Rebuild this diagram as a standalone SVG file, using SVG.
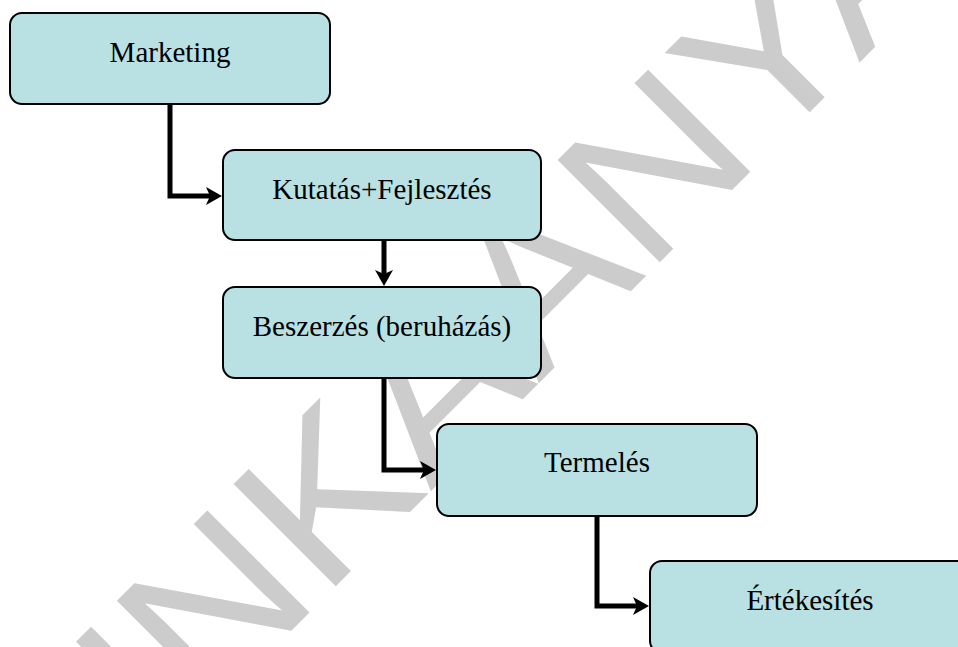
<svg xmlns="http://www.w3.org/2000/svg" width="958" height="647" viewBox="0 0 958 647">
<style>
.wm{font-family:"Liberation Sans",Arial,sans-serif;fill:#cccccc}
.box rect{fill:#b9e0e3;stroke:#000;stroke-width:2}
.box text{font-family:"Liberation Serif","Times New Roman",serif;font-size:29px;fill:#000;text-anchor:middle}
.conn path{fill:none;stroke:#000;stroke-width:5;stroke-linejoin:miter;marker-end:url(#arr)}
</style>
<defs>
<marker id="arr" markerUnits="userSpaceOnUse" viewBox="0 -10 20 20" markerWidth="20" markerHeight="20" refX="4" refY="0" orient="auto" overflow="visible">
<path d="M0,-9 L16,0 L0,9 L4,0 Z" fill="#000"/>
</marker>
</defs>
<rect width="958" height="647" fill="#fff"/>
<text class="wm" font-size="210" transform="translate(-46,968) rotate(-45) scale(1.09,1)">MUNKAANYAG</text>
<g id="connectors" class="conn">
<path d="M170,104 V196 H210"/>
<path d="M384,240 V274"/>
<path d="M384,378 V470 H424"/>
<path d="M597,516 V606 H637"/>
</g>
<g id="marketing" class="box"><rect x="10" y="13" width="320" height="91" rx="12"/><text x="170" y="62">Marketing</text></g>
<g id="kutatas" class="box"><rect x="223" y="150" width="318" height="90" rx="12"/><text x="382" y="199">Kutatás+Fejlesztés</text></g>
<g id="beszerzes" class="box"><rect x="223" y="287" width="318" height="91" rx="12"/><text x="382" y="336">Beszerzés (beruházás)</text></g>
<g id="termeles" class="box"><rect x="437" y="424" width="320" height="92" rx="12"/><text x="597" y="472">Termelés</text></g>
<g id="ertekesites" class="box"><rect x="650" y="561" width="320" height="92" rx="12"/><text x="810" y="610">Értékesítés</text></g>
</svg>
